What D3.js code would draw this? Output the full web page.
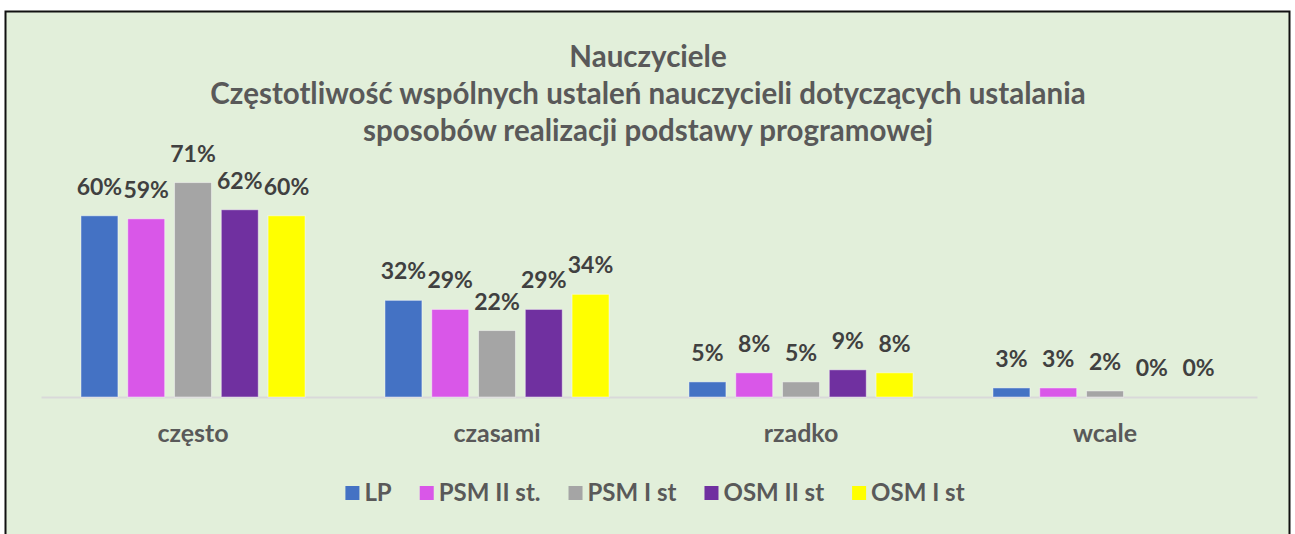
<!DOCTYPE html>
<html>
<head>
<meta charset="utf-8">
<script src="https://cdn.jsdelivr.net/npm/d3@7"></script>
<style>
  body { margin: 0; background: #fff; }
  svg text { font-family: Lato, "Open Sans", sans-serif; font-weight: bold; }
</style>
</head>
<body>
<div id="chart"></div>
<script>
// data
let categories = ['często', 'czasami', 'rzadko', 'wcale'];
let seriesNames = ['LP', 'PSM II st.', 'PSM I st', 'OSM II st', 'OSM I st'];
let seriesColors = ['#4472C4', '#D957E8', '#A5A5A5', '#7030A0', '#FFFF00'];
let valuesLP = [0.60, 0.32, 0.05, 0.03];
let valuesPSM2 = [0.59, 0.29, 0.08, 0.03];
let valuesPSM1 = [0.71, 0.22, 0.05, 0.02];
let valuesOSM2 = [0.62, 0.29, 0.09, 0.00];
let valuesOSM1 = [0.60, 0.34, 0.08, 0.00];
let titleLines = [
    'Nauczyciele',
    'Częstotliwość wspólnych ustaleń nauczycieli dotyczących ustalania',
    'sposobów realizacji podstawy programowej'
];

let seriesValues = [valuesLP, valuesPSM2, valuesPSM1, valuesOSM2, valuesOSM1];
let rows = categories.map((c, i) => ({
    cat: c,
    vals: seriesNames.map((s, j) => ({series: s, color: seriesColors[j], value: seriesValues[j][i]}))
}));

let width = 1295, height = 534;
let svg = d3.select('#chart').append('svg')
    .attr('width', width)
    .attr('height', height);

// chart area
svg.append('rect')
    .attr('x', 5.5).attr('y', 11.5)
    .attr('width', 1284).attr('height', 540)
    .attr('fill', '#E2EFDA')
    .attr('stroke', '#111')
    .attr('stroke-width', 2);

// title
svg.append('text')
    .attr('x', 648)
    .attr('y', 67)
    .attr('text-anchor', 'middle')
    .attr('fill', '#595959')
    .style('font-size', '29.5px')
    .selectAll('tspan')
    .data(titleLines)
    .join('tspan')
    .attr('x', 648)
    .attr('dy', (d, i) => i ? 37 : 0)
    .text(d => d);

let plotLeft = 41, plotRight = 1257, baseY = 397;

let x0 = d3.scaleBand()
    .domain(categories)
    .range([plotLeft, plotRight])
    .paddingInner(0.263)
    .paddingOuter(0.1315);

let x1 = d3.scaleBand()
    .domain(seriesNames)
    .range([0, x0.bandwidth()])
    .paddingInner(0.21);

let y = d3.scaleLinear()
    .domain([0, 1])
    .range([baseY, baseY - 302]);

// axis
let xAxis = svg.append('g')
    .attr('transform', `translate(0,${baseY})`)
    .call(d3.axisBottom(x0).tickSize(0).tickPadding(27));
xAxis.select('.domain')
    .attr('stroke', '#D9D9D9')
    .attr('stroke-width', 2);
xAxis.selectAll('text')
    .attr('fill', '#595959')
    .style('font-family', 'Lato, sans-serif')
    .style('font-weight', 'bold')
    .style('font-size', '25px');

// bars
let groups = svg.append('g')
    .selectAll('g')
    .data(rows)
    .join('g')
    .attr('transform', d => `translate(${x0(d.cat)},0)`);

groups.selectAll('rect')
    .data(d => d.vals)
    .join('rect')
    .attr('x', d => x1(d.series))
    .attr('y', d => y(d.value))
    .attr('width', x1.bandwidth())
    .attr('height', d => baseY - y(d.value))
    .attr('fill', d => d.color)
    .attr('stroke', 'rgba(255,255,255,0.45)')
    .attr('stroke-width', 1);

let fmt = d3.format('.0%');
groups.selectAll('text')
    .data(d => d.vals)
    .join('text')
    .attr('x', d => x1(d.series) + x1.bandwidth() / 2)
    .attr('y', d => y(d.value) - 21)
    .attr('text-anchor', 'middle')
    .attr('fill', '#404040')
    .style('font-size', '23px')
    .text(d => fmt(d.value));

// legend
let legend = svg.append('g');
let items = legend.selectAll('g')
    .data(seriesNames)
    .join('g');
items.append('rect')
    .attr('width', 14).attr('height', 14)
    .attr('y', -7)
    .attr('fill', (d, i) => seriesColors[i]);
items.append('text')
    .attr('x', 19)
    .attr('dy', '0.35em')
    .attr('fill', '#595959')
    .style('font-size', '24px')
    .text(d => d);

let xPos = 0;
items.each(function () {
    let w = 19 + d3.select(this).select('text').node().getComputedTextLength();
    d3.select(this).attr('transform', `translate(${xPos},0)`);
    xPos += w + 28;
});
let legendW = xPos - 28;
legend.attr('transform', `translate(${655 - legendW / 2},493)`);
</script>
</body>
</html>
